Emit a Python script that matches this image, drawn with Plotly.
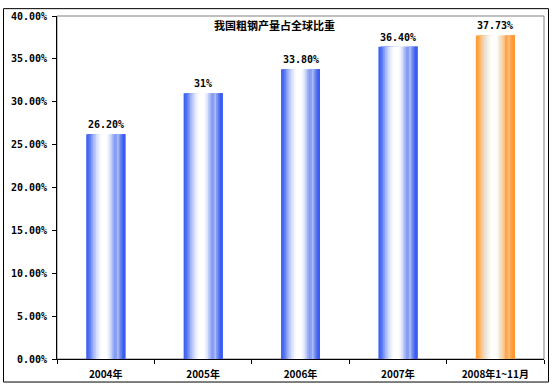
import plotly.graph_objects as go

# ---- data ----
categories = ["2004年", "2005年", "2006年", "2007年", "2008年1~11月"]
shares = [0.262, 0.31, 0.338, 0.364, 0.3773]
value_labels = ["26.20%", "31%", "33.80%", "36.40%", "37.73%"]
title_text = "我国粗钢产量占全球比重"
ytick_vals = [0, 0.05, 0.10, 0.15, 0.20, 0.25, 0.30, 0.35, 0.40]

# ---- gradient styles ----
blue_stops = [(0.00, "#3a5cf0"), (0.08, "#5072f2"), (0.18, "#a0b2f8"), (0.28, "#d8e1fc"),
              (0.38, "#ffffff"), (0.52, "#ffffff"), (0.60, "#e0e7fc"), (0.68, "#a6b7f7"),
              (0.75, "#7890f3"), (0.81, "#afbef8"), (0.88, "#6a84f2"), (0.95, "#4060ef"),
              (1.00, "#3a5cf0")]
orange_stops = [(0.00, "#ff9933"), (0.08, "#ffa94d"), (0.15, "#ffc68c"), (0.22, "#e8dccb"),
                (0.30, "#f2ede2"), (0.40, "#ffffff"), (0.55, "#fffdf6"), (0.62, "#ebe2d1"),
                (0.70, "#ffd09a"), (0.78, "#ff9c42"), (0.85, "#ffc080"), (0.92, "#ff9933"),
                (1.00, "#ff9933")]


def hex2rgb(h):
    h = h.lstrip("#")
    return [int(h[i:i + 2], 16) for i in (0, 2, 4)]


def interp(stops, t):
    for (t0, c0), (t1, c1) in zip(stops[:-1], stops[1:]):
        if t0 <= t <= t1:
            a = hex2rgb(c0)
            b = hex2rgb(c1)
            f = 0 if t1 == t0 else (t - t0) / (t1 - t0)
            r = [round(a[k] + (b[k] - a[k]) * f) for k in range(3)]
            return "rgb(%d,%d,%d)" % tuple(r)
    return stops[-1][1]


bar_w = 0.4
n_slices = 24
s = bar_w / n_slices

fig = go.Figure()
for i in range(n_slices):
    t = (i + 0.5) / n_slices
    colors = [interp(blue_stops, t)] * 4 + [interp(orange_stops, t)]
    fig.add_trace(go.Bar(
        x=categories, y=shares,
        offset=-bar_w / 2 + i * s, width=bar_w - i * s,
        marker=dict(color=colors, line=dict(width=0)),
        hoverinfo="skip", showlegend=False,
    ))

L, R, T, B = 57, 10, 11, 30
W, H = 554, 391
pw, ph = W - L - R, H - T - B

def px2x(px):
    return (px - L) / pw

def py2y(py):
    return (H - B - py) / ph

annotations = [
    dict(text=title_text, xref="paper", yref="paper", x=px2x(274), y=py2y(20),
         xanchor="center", yanchor="middle", showarrow=False,
         font=dict(family="Noto Sans CJK SC", size=11, color="black", weight="bold")),
]
for c, v, lab in zip(categories, shares, value_labels):
    annotations.append(dict(
        text=lab, x=c, y=v, xref="x", yref="y", xanchor="center", yanchor="bottom",
        yshift=2, showarrow=False,
        font=dict(family="DejaVu Sans Mono", size=10, color="black", weight="bold")))

fig.update_layout(
    width=W, height=H,
    margin=dict(l=L, r=R, t=T, b=B, pad=0),
    paper_bgcolor="white", plot_bgcolor="white",
    barmode="overlay",
    showlegend=False,
    xaxis=dict(
        type="category", range=[-0.5, 4.5],
        showgrid=False, zeroline=False,
        showline=True, linecolor="black", linewidth=1,
        ticks="outside", ticklen=4, tickcolor="black",
        tickson="boundaries", ticklabelstandoff=6,
        tickfont=dict(family="Noto Sans CJK SC", size=10, color="black", weight="bold"),
    ),
    yaxis=dict(
        range=[0, 0.40], tickvals=ytick_vals, tickformat=".2%",
        showgrid=False, zeroline=False,
        showline=True, linecolor="black", linewidth=1,
        ticks="outside", ticklen=4, tickcolor="black", ticklabelstandoff=3,
        tickfont=dict(family="DejaVu Sans Mono", size=10, color="black", weight="bold"),
    ),
    shapes=[
        dict(type="rect", xref="paper", yref="paper", x0=0, y0=0, x1=1, y1=1,
             line=dict(color="#808080", width=1), layer="below"),
        dict(type="rect", xref="paper", yref="paper",
             x0=px2x(3.5), x1=px2x(548.5), y0=py2y(384.5), y1=py2y(3.5),
             line=dict(color="black", width=1), layer="below"),
    ],
    annotations=annotations,
)

fig.write_html("out.html")
